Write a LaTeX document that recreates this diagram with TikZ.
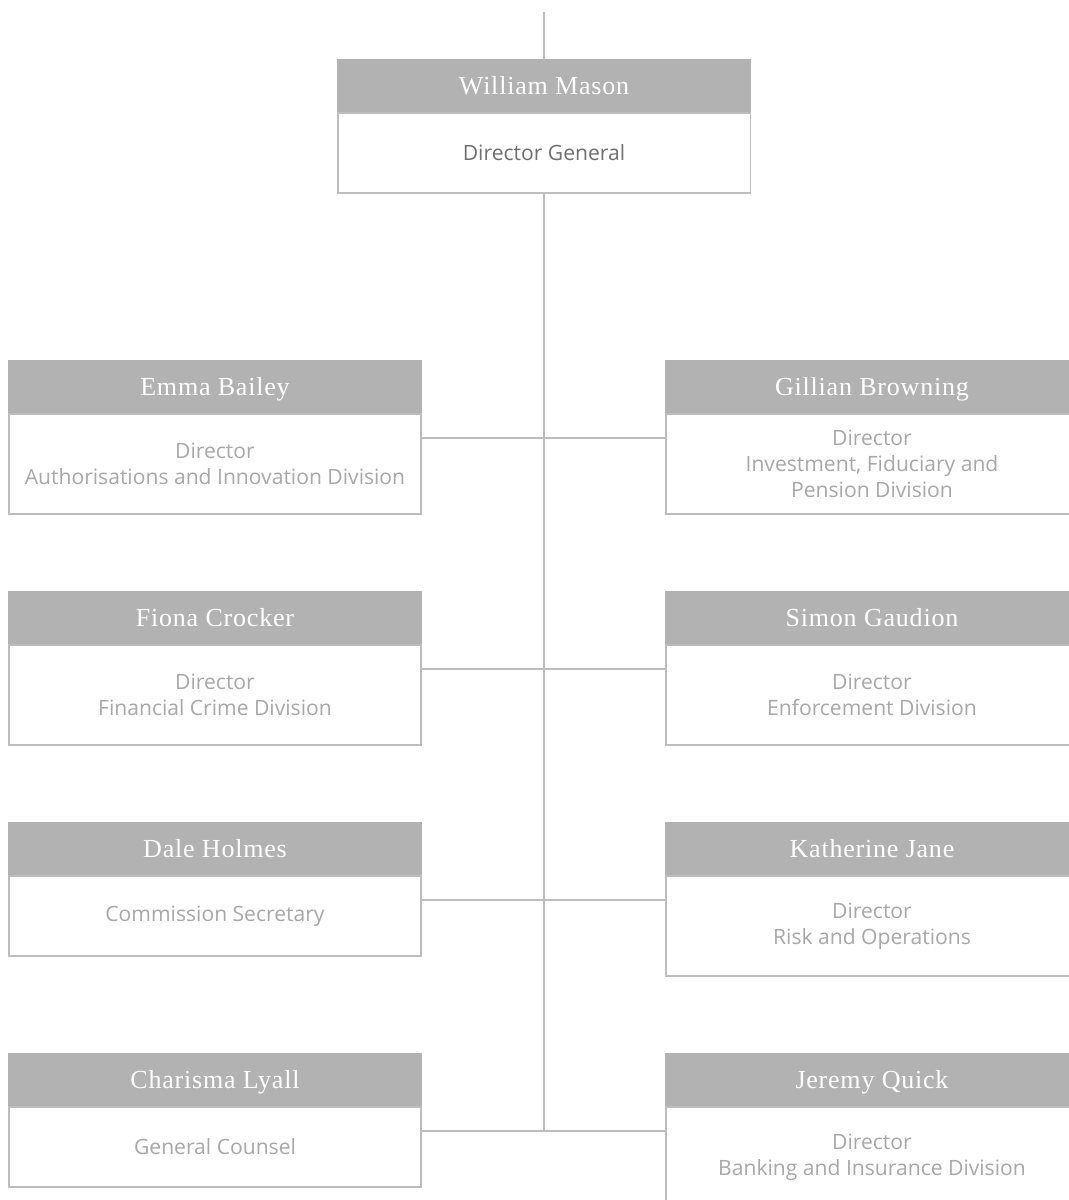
\documentclass[tikz,border=0pt]{standalone}
\usepackage{fontspec}
\setmainfont{Open Sans}
\newfontfamily\headfont[LetterSpace=3]{Liberation Serif}
\usetikzlibrary{positioning}
\definecolor{headgray}{HTML}{B2B2B2}
\definecolor{rule}{HTML}{BDBDBD}
\definecolor{roletext}{HTML}{A8A8A8}
\definecolor{darktext}{HTML}{6F6F6F}
\tikzset{
    % Name bar
    header/.style={
        rectangle,
        minimum width=10.3cm,
        minimum height=1.325cm,
        inner sep=0pt,
        outer sep=0pt,
        fill=headgray,
        draw=headgray,
        line width=0.8pt,
        text=white,
        text height=1.2em,
        text depth=0pt,
        font=\headfont\fontsize{18.5}{22}\selectfont
    },
    % Role box under the name bar
    rolebox/.style={
        rectangle,
        minimum width=10.3cm,
        minimum height=#1,
        inner sep=0pt,
        outer sep=0pt,
        draw=rule,
        fill=white,
        line width=0.8pt,
        align=center,
        text=roletext,
        font=\fontsize{15}{18.5}\selectfont
    },
    rolebox/.default=2.5cm,
    % Connector lines
    link/.style={
        draw=rule,
        line width=0.8pt
    }
}
\begin{document}
\begin{tikzpicture}[x=0.025cm, y=-0.025cm]
    \useasboundingbox (0,0) rectangle (1068,1200);

    % Director General
    \coordinate (topend) at (544,12);
    \node[header] (mason) at (544,86.5) {William Mason};
    \node[rolebox=2cm, text=darktext, below=0pt of mason] (masonrole) {Director General};

    % Left column
    \node[header] (bailey) at (215,387.5) {Emma Bailey};
    \node[rolebox, below=0pt of bailey] (baileyrole) {Director\\Authorisations and Innovation Division};
    \node[header] (crocker) at (215,618.5) {Fiona Crocker};
    \node[rolebox, below=0pt of crocker] (crockerrole) {Director\\Financial Crime Division};
    \node[header] (holmes) at (215,849.5) {Dale Holmes};
    \node[rolebox=2cm, below=0pt of holmes] (holmesrole) {Commission Secretary};
    \node[header] (lyall) at (215,1080.5) {Charisma Lyall};
    \node[rolebox=2cm, below=0pt of lyall] (lyallrole) {General Counsel};

    % Right column
    \node[header] (browning) at (872,387.5) {Gillian Browning};
    \node[rolebox, below=0pt of browning] (browningrole) {Director\\Investment, Fiduciary and\\Pension Division};
    \node[header] (gaudion) at (872,618.5) {Simon Gaudion};
    \node[rolebox, below=0pt of gaudion] (gaudionrole) {Director\\Enforcement Division};
    \node[header] (jane) at (872,849.5) {Katherine Jane};
    \node[rolebox, below=0pt of jane] (janerole) {Director\\Risk and Operations};
    \node[header] (quick) at (872,1080.5) {Jeremy Quick};
    \node[rolebox, below=0pt of quick] (quickrole) {Director\\Banking and Insurance Division};

    % Connections
    \foreach \l/\r [count=\i] in {baileyrole/browningrole, crockerrole/gaudionrole, holmesrole/janerole, lyallrole/quickrole} {
        \coordinate (j\i) at ([yshift=-0.6cm]\l.north east);
        \draw[link] (j\i) -- (j\i -| \r.west);
    }
    \draw[link] (topend) -- (mason.north);
    \draw[link] (masonrole.south) -- (masonrole.south |- j4);

\end{tikzpicture}
\end{document}
